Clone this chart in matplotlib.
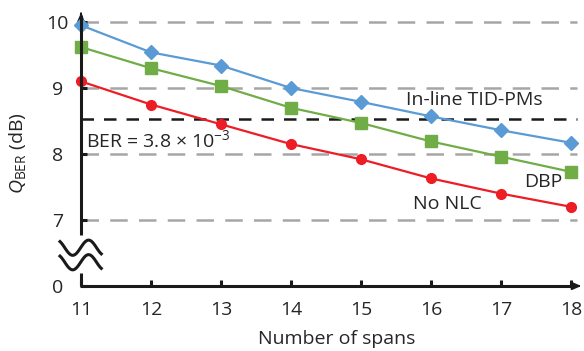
import numpy as np
import matplotlib
matplotlib.use("Agg")
import matplotlib.pyplot as plt

# Data
spans = [11, 12, 13, 14, 15, 16, 17, 18]
q_tidpm = [9.95, 9.54, 9.34, 9.00, 8.79, 8.57, 8.36, 8.17]
q_dbp = [9.62, 9.30, 9.03, 8.70, 8.47, 8.19, 7.96, 7.73]
q_nonlc = [9.10, 8.75, 8.45, 8.15, 7.92, 7.63, 7.40, 7.20]
q_threshold = 8.53
ytick_values = [0, 7, 8, 9, 10]
ytick_labels = ["0", "7", "8", "9", "10"]

# Broken y axis: the real zero is drawn one unit below 7
BREAK_OFFSET = 6.0
def ypos(v):
    return v if v >= 7 else BREAK_OFFSET + v

plt.rcParams['font.family'] = ['Open Sans', 'DejaVu Sans']
plt.rcParams['mathtext.fontset'] = 'custom'
plt.rcParams['mathtext.rm'] = 'Open Sans'
plt.rcParams['mathtext.it'] = 'Open Sans:italic'

W, H = 584, 351
fig = plt.figure(figsize=(W / 100, H / 100), dpi=100)
left_px, right_px, bot_px, top_px = 81, 584, 286, 10
ax = fig.add_axes([left_px / W, 1 - bot_px / H,
                   (right_px - left_px) / W, (bot_px - top_px) / H])

x0 = 11.0
xmax = x0 + (right_px - left_px) / 70.0
ymin = BREAK_OFFSET
ymax = 10 + (22 - top_px) / 66.0
ax.set_xlim(x0, xmax)
ax.set_ylim(ymin, ymax)

for s in ax.spines.values():
    s.set_visible(False)

# Dashed horizontal grid
grid_end = 18.09
for v in [7, 8, 9, 10]:
    ax.plot([x0, grid_end], [v, v], color='#A6A6A6', lw=1.8,
            dashes=(7, 4.5), zorder=1, solid_capstyle='butt')

# Threshold line
ax.plot([x0, grid_end], [q_threshold, q_threshold], color='#1a1a1a', lw=1.8,
        dashes=(5, 4), zorder=1)

# Series
ax.plot(spans, q_tidpm, color='#5B9BD5', lw=1.6, marker='D', ms=7.5, zorder=4,
        clip_on=False)
ax.plot(spans, q_dbp, color='#70AD47', lw=1.6, marker='s', ms=8.5, zorder=3,
        clip_on=False)
ax.plot(spans, q_nonlc, color='#EE1C25', lw=1.6, marker='o', ms=7, zorder=3,
        clip_on=False)

# Axes lines with arrows and broken left spine
axis_kw = dict(color='#1a1a1a', lw=2.2, clip_on=False, zorder=5,
               solid_capstyle='butt')
ax.plot([x0, x0], [ymin, 6.2], **axis_kw)
ax.plot([x0, x0], [6.78, ymax - 0.08], **axis_kw)
ax.plot([x0 - 0.015, xmax - 0.12], [ymin, ymin], **axis_kw)
ax.annotate('', xy=(x0, ymax), xytext=(x0, ymax - 0.1),
            arrowprops=dict(arrowstyle='-|>,head_length=0.5,head_width=0.22',
                            color='#1a1a1a', lw=1.5), annotation_clip=False)
ax.annotate('', xy=(xmax, ymin), xytext=(xmax - 0.15, ymin),
            arrowprops=dict(arrowstyle='-|>,head_length=0.5,head_width=0.22',
                            color='#1a1a1a', lw=1.5), annotation_clip=False)

# Break marks
t = np.linspace(-0.3 * np.pi, 2.3 * np.pi, 100)
sx = np.linspace(10.70, 11.29, 100)
for yc in [6.58, 6.36]:
    ax.plot(sx, yc - 0.115 * np.sin(t), color='#1a1a1a', lw=2.2,
            clip_on=False, zorder=6)

# Ticks
ax.set_xticks(spans)
ax.set_xticklabels([str(s) for s in spans])
ax.set_yticks([ypos(v) for v in ytick_values])
ax.set_yticklabels(ytick_labels)
ax.tick_params(axis='both', direction='in', length=4, width=2.2,
               color='#1a1a1a', labelsize=14, labelcolor='#262626')
ax.tick_params(axis='x', pad=11)
ax.tick_params(axis='y', pad=17)
for lab in ax.get_yticklabels():
    lab.set_horizontalalignment('center')

# Axis labels
ax.set_xlabel('Number of spans', fontsize=14, color='#262626', labelpad=6)
ax.xaxis.set_label_coords((337 - left_px) / (right_px - left_px), -0.16)
fig.text(18 / W, 1 - 153 / H, r'$\mathit{Q}_{\mathrm{BER}}$ (dB)', rotation=90,
         ha='center', va='center', fontsize=14, color='#262626')

# Annotations
ax.text(15.64, 8.82, 'In-line TID-PMs', fontsize=14, color='#262626',
        ha='left', va='center')
ax.text(17.61, 7.57, 'DBP', fontsize=14, color='#262626', ha='center', va='center')
ax.text(16.24, 7.25, 'No NLC', fontsize=14, color='#262626', ha='center', va='center')
ax.text(11.07, 8.21, r'BER = 3.8 × 10$^{\mathregular{-3}}$', fontsize=14,
        color='#262626', ha='left', va='center')

fig.savefig('out.png', dpi=100)
